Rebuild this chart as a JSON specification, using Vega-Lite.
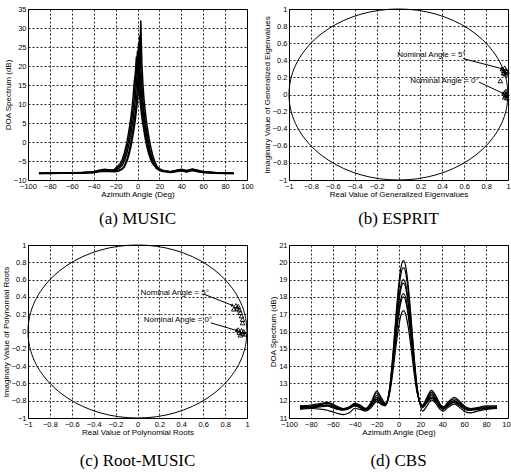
{
"$schema": "https://vega.github.io/schema/vega-lite/v6.json",
"padding": {"left": 1, "top": 4, "right": 0, "bottom": 0},
"config": {
 "font": "Liberation Sans",
 "view": {"stroke": "black", "strokeWidth": 1},
 "axis": {"domain": false, "ticks": false, "grid": true, "gridColor": "black", "gridDash": [2, 2], "gridOpacity": 0.85, "gridWidth": 1, "labelColor": "black", "labelFontSize": 7.5, "labelFont": "Liberation Sans Narrow, Liberation Sans", "labelPadding": 2, "labelFlush": false, "labelOverlap": false, "titleColor": "black", "titleFontSize": 8, "titleFontWeight": "normal", "titleFont": "Liberation Sans", "titlePadding": 1},
 "title": {"font": "Liberation Serif", "fontSize": 17, "fontWeight": "normal", "color": "black"},
 "point": {"opacity": 1}
},
"datasets": {
 "music": [
  {"c":"a1","x":-90,"y":-8.2},{"c":"a1","x":-80,"y":-8.2},{"c":"a1","x":-70,"y":-8.2},{"c":"a1","x":-60,"y":-8.2},{"c":"a1","x":-50,"y":-8.1},{"c":"a1","x":-40,"y":-8.0},{"c":"a1","x":-35,"y":-7.7},{"c":"a1","x":-30,"y":-7.5},
  {"c":"a1","x":-20,"y":-7.7},{"c":"a1","x":-17,"y":-7.5},{"c":"a1","x":-14,"y":-7.0},{"c":"a1","x":-12,"y":-6.5},{"c":"a1","x":-10,"y":-5.3},{"c":"a1","x":-8,"y":-3.6},{"c":"a1","x":-6,"y":-1.2},{"c":"a1","x":-5,"y":0.3},{"c":"a1","x":-4,"y":2},{"c":"a1","x":-3,"y":3.8},{"c":"a1","x":-2,"y":5.8},{"c":"a1","x":-1,"y":8.3},{"c":"a1","x":0,"y":11},{"c":"a1","x":1,"y":15},{"c":"a1","x":2,"y":20.5},{"c":"a1","x":3,"y":32},{"c":"a1","x":4,"y":20.5},{"c":"a1","x":5,"y":15},{"c":"a1","x":6,"y":11},{"c":"a1","x":7,"y":8.3},{"c":"a1","x":8,"y":5.8},{"c":"a1","x":9,"y":3.8},{"c":"a1","x":10,"y":2},{"c":"a1","x":11,"y":0.3},{"c":"a1","x":12,"y":-1.2},{"c":"a1","x":14,"y":-3.6},{"c":"a1","x":16,"y":-5.3},{"c":"a1","x":18,"y":-6.5},{"c":"a1","x":20,"y":-7.0},{"c":"a1","x":23,"y":-7.5},{"c":"a1","x":26,"y":-7.7},
  {"c":"a1","x":30,"y":-7.9},{"c":"a1","x":35,"y":-7.6},{"c":"a1","x":40,"y":-7.4},{"c":"a1","x":45,"y":-7.7},{"c":"a1","x":50,"y":-7.3},{"c":"a1","x":55,"y":-7.6},{"c":"a1","x":60,"y":-7.9},{"c":"a1","x":70,"y":-8.1},{"c":"a1","x":80,"y":-8.2},{"c":"a1","x":88,"y":-8.2},
  {"c":"a2","x":-90,"y":-8.3},{"c":"a2","x":-80,"y":-8.3},{"c":"a2","x":-70,"y":-8.2},{"c":"a2","x":-60,"y":-8.2},{"c":"a2","x":-50,"y":-8.1},{"c":"a2","x":-40,"y":-7.9},{"c":"a2","x":-35,"y":-7.5},{"c":"a2","x":-30,"y":-7.3},
  {"c":"a2","x":-24,"y":-7.4},{"c":"a2","x":-21,"y":-7.2},{"c":"a2","x":-18,"y":-6.3},{"c":"a2","x":-16,"y":-5.8},{"c":"a2","x":-14,"y":-4.6},{"c":"a2","x":-12,"y":-2.9},{"c":"a2","x":-10,"y":-0.5},{"c":"a2","x":-9,"y":1.0},{"c":"a2","x":-8,"y":2.7},{"c":"a2","x":-7,"y":4.5},{"c":"a2","x":-6,"y":6.5},{"c":"a2","x":-5,"y":9.0},{"c":"a2","x":-4,"y":11.7},{"c":"a2","x":-3,"y":15.7},{"c":"a2","x":-2,"y":18},{"c":"a2","x":-1,"y":22.5},{"c":"a2","x":0,"y":18},{"c":"a2","x":1,"y":15.7},{"c":"a2","x":2,"y":11.7},{"c":"a2","x":3,"y":9.0},{"c":"a2","x":4,"y":6.5},{"c":"a2","x":5,"y":4.5},{"c":"a2","x":6,"y":2.7},{"c":"a2","x":7,"y":1.0},{"c":"a2","x":8,"y":-0.5},{"c":"a2","x":10,"y":-2.9},{"c":"a2","x":12,"y":-4.6},{"c":"a2","x":14,"y":-5.8},{"c":"a2","x":16,"y":-6.3},{"c":"a2","x":19,"y":-7.2},{"c":"a2","x":22,"y":-7.4},
  {"c":"a2","x":30,"y":-7.8},{"c":"a2","x":35,"y":-7.5},{"c":"a2","x":40,"y":-7.3},{"c":"a2","x":45,"y":-7.6},{"c":"a2","x":50,"y":-7.2},{"c":"a2","x":55,"y":-7.5},{"c":"a2","x":60,"y":-7.8},{"c":"a2","x":70,"y":-8.0},{"c":"a2","x":80,"y":-8.2},{"c":"a2","x":88,"y":-8.3},
  {"c":"a3","x":-90,"y":-8.2},{"c":"a3","x":-80,"y":-8.1},{"c":"a3","x":-70,"y":-8.1},{"c":"a3","x":-60,"y":-8.1},{"c":"a3","x":-50,"y":-8.0},{"c":"a3","x":-40,"y":-7.9},{"c":"a3","x":-35,"y":-7.6},{"c":"a3","x":-30,"y":-7.4},
  {"c":"a3","x":-22,"y":-7.6},{"c":"a3","x":-19,"y":-7.4},{"c":"a3","x":-16,"y":-6.7},{"c":"a3","x":-14,"y":-6.2},{"c":"a3","x":-12,"y":-5.0},{"c":"a3","x":-10,"y":-3.3},{"c":"a3","x":-8,"y":-0.9},{"c":"a3","x":-7,"y":0.6},{"c":"a3","x":-6,"y":2.3},{"c":"a3","x":-5,"y":4.1},{"c":"a3","x":-4,"y":6.1},{"c":"a3","x":-3,"y":8.6},{"c":"a3","x":-2,"y":11.3},{"c":"a3","x":-1,"y":15.3},{"c":"a3","x":0,"y":19.5},{"c":"a3","x":1,"y":26},{"c":"a3","x":2,"y":19.5},{"c":"a3","x":3,"y":15.3},{"c":"a3","x":4,"y":11.3},{"c":"a3","x":5,"y":8.6},{"c":"a3","x":6,"y":6.1},{"c":"a3","x":7,"y":4.1},{"c":"a3","x":8,"y":2.3},{"c":"a3","x":9,"y":0.6},{"c":"a3","x":10,"y":-0.9},{"c":"a3","x":12,"y":-3.3},{"c":"a3","x":14,"y":-5.0},{"c":"a3","x":16,"y":-6.2},{"c":"a3","x":18,"y":-6.7},{"c":"a3","x":21,"y":-7.4},{"c":"a3","x":24,"y":-7.6},
  {"c":"a3","x":30,"y":-7.9},{"c":"a3","x":35,"y":-7.7},{"c":"a3","x":40,"y":-7.5},{"c":"a3","x":45,"y":-7.8},{"c":"a3","x":50,"y":-7.4},{"c":"a3","x":55,"y":-7.7},{"c":"a3","x":60,"y":-8.0},{"c":"a3","x":70,"y":-8.1},{"c":"a3","x":80,"y":-8.2},{"c":"a3","x":88,"y":-8.2},
  {"c":"a4","x":-90,"y":-8.3},{"c":"a4","x":-80,"y":-8.2},{"c":"a4","x":-70,"y":-8.2},{"c":"a4","x":-60,"y":-8.2},{"c":"a4","x":-50,"y":-8.2},{"c":"a4","x":-40,"y":-8.1},{"c":"a4","x":-35,"y":-7.8},{"c":"a4","x":-30,"y":-7.7},
  {"c":"a4","x":-21,"y":-7.8},{"c":"a4","x":-18,"y":-7.7},{"c":"a4","x":-15,"y":-7.3},{"c":"a4","x":-13,"y":-6.9},{"c":"a4","x":-11,"y":-5.7},{"c":"a4","x":-9,"y":-4.0},{"c":"a4","x":-7,"y":-1.6},{"c":"a4","x":-6,"y":-0.1},{"c":"a4","x":-5,"y":1.6},{"c":"a4","x":-4,"y":3.4},{"c":"a4","x":-3,"y":5.4},{"c":"a4","x":-2,"y":7.9},{"c":"a4","x":-1,"y":10.6},{"c":"a4","x":0,"y":14.6},{"c":"a4","x":1,"y":20},{"c":"a4","x":2,"y":28},{"c":"a4","x":3,"y":20},{"c":"a4","x":4,"y":14.6},{"c":"a4","x":5,"y":10.6},{"c":"a4","x":6,"y":7.9},{"c":"a4","x":7,"y":5.4},{"c":"a4","x":8,"y":3.4},{"c":"a4","x":9,"y":1.6},{"c":"a4","x":10,"y":-0.1},{"c":"a4","x":11,"y":-1.6},{"c":"a4","x":13,"y":-4.0},{"c":"a4","x":15,"y":-5.7},{"c":"a4","x":17,"y":-6.9},{"c":"a4","x":19,"y":-7.3},{"c":"a4","x":22,"y":-7.7},{"c":"a4","x":25,"y":-7.8},
  {"c":"a4","x":30,"y":-8.0},{"c":"a4","x":35,"y":-7.8},{"c":"a4","x":40,"y":-7.6},{"c":"a4","x":45,"y":-7.9},{"c":"a4","x":50,"y":-7.5},{"c":"a4","x":55,"y":-7.8},{"c":"a4","x":60,"y":-8.0},{"c":"a4","x":70,"y":-8.2},{"c":"a4","x":80,"y":-8.3},{"c":"a4","x":88,"y":-8.3},
  {"c":"a5","x":-90,"y":-8.2},{"c":"a5","x":-80,"y":-8.2},{"c":"a5","x":-70,"y":-8.1},{"c":"a5","x":-60,"y":-8.1},{"c":"a5","x":-50,"y":-8.0},{"c":"a5","x":-40,"y":-7.8},{"c":"a5","x":-35,"y":-7.4},{"c":"a5","x":-30,"y":-7.2},
  {"c":"a5","x":-23,"y":-7.5},{"c":"a5","x":-20,"y":-7.3},{"c":"a5","x":-17,"y":-6.5},{"c":"a5","x":-15,"y":-6.0},{"c":"a5","x":-13,"y":-4.8},{"c":"a5","x":-11,"y":-3.1},{"c":"a5","x":-9,"y":-0.7},{"c":"a5","x":-8,"y":0.8},{"c":"a5","x":-7,"y":2.5},{"c":"a5","x":-6,"y":4.3},{"c":"a5","x":-5,"y":6.3},{"c":"a5","x":-4,"y":8.8},{"c":"a5","x":-3,"y":11.5},{"c":"a5","x":-2,"y":15.5},{"c":"a5","x":-1,"y":19},{"c":"a5","x":0,"y":24},{"c":"a5","x":1,"y":19},{"c":"a5","x":2,"y":15.5},{"c":"a5","x":3,"y":11.5},{"c":"a5","x":4,"y":8.8},{"c":"a5","x":5,"y":6.3},{"c":"a5","x":6,"y":4.3},{"c":"a5","x":7,"y":2.5},{"c":"a5","x":8,"y":0.8},{"c":"a5","x":9,"y":-0.7},{"c":"a5","x":11,"y":-3.1},{"c":"a5","x":13,"y":-4.8},{"c":"a5","x":15,"y":-6.0},{"c":"a5","x":17,"y":-6.5},{"c":"a5","x":20,"y":-7.3},{"c":"a5","x":23,"y":-7.5},
  {"c":"a5","x":30,"y":-7.8},{"c":"a5","x":35,"y":-7.5},{"c":"a5","x":40,"y":-7.2},{"c":"a5","x":45,"y":-7.5},{"c":"a5","x":50,"y":-7.1},{"c":"a5","x":55,"y":-7.4},{"c":"a5","x":60,"y":-7.8},{"c":"a5","x":70,"y":-8.0},{"c":"a5","x":80,"y":-8.1},{"c":"a5","x":88,"y":-8.2}
 ],
 "cbs": [
  {"c":"d1","x":-90,"y":11.7},{"c":"d1","x":-80,"y":11.75},{"c":"d1","x":-70,"y":11.85},{"c":"d1","x":-65,"y":11.9},{"c":"d1","x":-60,"y":11.8},{"c":"d1","x":-55,"y":11.65},{"c":"d1","x":-50,"y":11.55},{"c":"d1","x":-45,"y":11.65},{"c":"d1","x":-40,"y":11.85},{"c":"d1","x":-35,"y":11.75},{"c":"d1","x":-30,"y":11.55},{"c":"d1","x":-25,"y":11.9},{"c":"d1","x":-20,"y":12.55},{"c":"d1","x":-15,"y":12.1},{"c":"d1","x":-12,"y":11.85},
  {"c":"d1","x":-10,"y":12.03},{"c":"d1","x":-8,"y":12.79},{"c":"d1","x":-6,"y":14.03},{"c":"d1","x":-4,"y":15.56},{"c":"d1","x":-2,"y":17.17},{"c":"d1","x":0,"y":18.59},{"c":"d1","x":2,"y":19.61},{"c":"d1","x":4,"y":20.08},{"c":"d1","x":5,"y":20.08},{"c":"d1","x":7,"y":19.61},{"c":"d1","x":9,"y":18.59},{"c":"d1","x":11,"y":17.17},{"c":"d1","x":13,"y":15.56},{"c":"d1","x":15,"y":14.03},{"c":"d1","x":17,"y":12.79},{"c":"d1","x":19,"y":12.03},
  {"c":"d1","x":22,"y":11.75},{"c":"d1","x":26,"y":12.2},{"c":"d1","x":30,"y":12.6},{"c":"d1","x":34,"y":12.3},{"c":"d1","x":38,"y":11.8},{"c":"d1","x":41,"y":11.65},{"c":"d1","x":45,"y":11.9},{"c":"d1","x":51,"y":12.2},{"c":"d1","x":56,"y":11.95},{"c":"d1","x":61,"y":11.65},{"c":"d1","x":66,"y":11.55},{"c":"d1","x":72,"y":11.6},{"c":"d1","x":80,"y":11.7},{"c":"d1","x":90,"y":11.7},
  {"c":"d2","x":-90,"y":11.65},{"c":"d2","x":-80,"y":11.7},{"c":"d2","x":-70,"y":11.8},{"c":"d2","x":-65,"y":11.85},{"c":"d2","x":-60,"y":11.75},{"c":"d2","x":-55,"y":11.6},{"c":"d2","x":-50,"y":11.5},{"c":"d2","x":-45,"y":11.6},{"c":"d2","x":-40,"y":11.8},{"c":"d2","x":-35,"y":11.7},{"c":"d2","x":-30,"y":11.5},{"c":"d2","x":-25,"y":11.85},{"c":"d2","x":-20,"y":12.45},{"c":"d2","x":-15,"y":12.0},{"c":"d2","x":-12,"y":11.8},
  {"c":"d2","x":-10,"y":12.02},{"c":"d2","x":-8,"y":12.74},{"c":"d2","x":-6,"y":13.92},{"c":"d2","x":-4,"y":15.38},{"c":"d2","x":-2,"y":16.91},{"c":"d2","x":0,"y":18.26},{"c":"d2","x":2,"y":19.24},{"c":"d2","x":4,"y":19.68},{"c":"d2","x":5,"y":19.68},{"c":"d2","x":7,"y":19.24},{"c":"d2","x":9,"y":18.26},{"c":"d2","x":11,"y":16.91},{"c":"d2","x":13,"y":15.38},{"c":"d2","x":15,"y":13.92},{"c":"d2","x":17,"y":12.74},{"c":"d2","x":19,"y":12.02},
  {"c":"d2","x":22,"y":11.7},{"c":"d2","x":26,"y":12.1},{"c":"d2","x":30,"y":12.5},{"c":"d2","x":34,"y":12.2},{"c":"d2","x":38,"y":11.75},{"c":"d2","x":41,"y":11.6},{"c":"d2","x":45,"y":11.85},{"c":"d2","x":51,"y":12.1},{"c":"d2","x":56,"y":11.9},{"c":"d2","x":61,"y":11.6},{"c":"d2","x":66,"y":11.5},{"c":"d2","x":72,"y":11.55},{"c":"d2","x":80,"y":11.65},{"c":"d2","x":90,"y":11.65},
  {"c":"d3","x":-90,"y":11.6},{"c":"d3","x":-80,"y":11.65},{"c":"d3","x":-70,"y":11.75},{"c":"d3","x":-65,"y":11.75},{"c":"d3","x":-60,"y":11.7},{"c":"d3","x":-55,"y":11.55},{"c":"d3","x":-50,"y":11.5},{"c":"d3","x":-45,"y":11.55},{"c":"d3","x":-40,"y":11.75},{"c":"d3","x":-35,"y":11.65},{"c":"d3","x":-30,"y":11.5},{"c":"d3","x":-25,"y":11.8},{"c":"d3","x":-20,"y":12.3},{"c":"d3","x":-15,"y":11.95},{"c":"d3","x":-12,"y":11.8},
  {"c":"d3","x":-10,"y":12.0},{"c":"d3","x":-8,"y":12.66},{"c":"d3","x":-6,"y":13.74},{"c":"d3","x":-4,"y":15.07},{"c":"d3","x":-2,"y":16.46},{"c":"d3","x":0,"y":17.69},{"c":"d3","x":2,"y":18.58},{"c":"d3","x":4,"y":18.98},{"c":"d3","x":5,"y":18.98},{"c":"d3","x":7,"y":18.58},{"c":"d3","x":9,"y":17.69},{"c":"d3","x":11,"y":16.46},{"c":"d3","x":13,"y":15.07},{"c":"d3","x":15,"y":13.74},{"c":"d3","x":17,"y":12.66},{"c":"d3","x":19,"y":12.0},
  {"c":"d3","x":22,"y":11.65},{"c":"d3","x":26,"y":12.0},{"c":"d3","x":30,"y":12.4},{"c":"d3","x":34,"y":12.1},{"c":"d3","x":38,"y":11.7},{"c":"d3","x":41,"y":11.55},{"c":"d3","x":45,"y":11.8},{"c":"d3","x":51,"y":12.0},{"c":"d3","x":56,"y":11.85},{"c":"d3","x":61,"y":11.6},{"c":"d3","x":66,"y":11.5},{"c":"d3","x":72,"y":11.5},{"c":"d3","x":80,"y":11.6},{"c":"d3","x":90,"y":11.6},
  {"c":"d4","x":-90,"y":11.7},{"c":"d4","x":-80,"y":11.65},{"c":"d4","x":-70,"y":11.7},{"c":"d4","x":-65,"y":11.75},{"c":"d4","x":-60,"y":11.65},{"c":"d4","x":-55,"y":11.55},{"c":"d4","x":-50,"y":11.55},{"c":"d4","x":-45,"y":11.6},{"c":"d4","x":-40,"y":11.8},{"c":"d4","x":-35,"y":11.7},{"c":"d4","x":-30,"y":11.55},{"c":"d4","x":-25,"y":11.75},{"c":"d4","x":-20,"y":12.2},{"c":"d4","x":-15,"y":11.9},{"c":"d4","x":-12,"y":11.8},
  {"c":"d4","x":-10,"y":12.0},{"c":"d4","x":-8,"y":12.64},{"c":"d4","x":-6,"y":13.68},{"c":"d4","x":-4,"y":14.98},{"c":"d4","x":-2,"y":16.33},{"c":"d4","x":0,"y":17.53},{"c":"d4","x":2,"y":18.39},{"c":"d4","x":4,"y":18.78},{"c":"d4","x":5,"y":18.78},{"c":"d4","x":7,"y":18.39},{"c":"d4","x":9,"y":17.53},{"c":"d4","x":11,"y":16.33},{"c":"d4","x":13,"y":14.98},{"c":"d4","x":15,"y":13.68},{"c":"d4","x":17,"y":12.64},{"c":"d4","x":19,"y":12.0},
  {"c":"d4","x":22,"y":11.7},{"c":"d4","x":26,"y":11.95},{"c":"d4","x":30,"y":12.3},{"c":"d4","x":34,"y":12.05},{"c":"d4","x":38,"y":11.7},{"c":"d4","x":41,"y":11.6},{"c":"d4","x":45,"y":11.75},{"c":"d4","x":51,"y":11.95},{"c":"d4","x":56,"y":11.8},{"c":"d4","x":61,"y":11.6},{"c":"d4","x":66,"y":11.55},{"c":"d4","x":72,"y":11.55},{"c":"d4","x":80,"y":11.6},{"c":"d4","x":90,"y":11.65},
  {"c":"d5","x":-90,"y":11.55},{"c":"d5","x":-80,"y":11.6},{"c":"d5","x":-70,"y":11.7},{"c":"d5","x":-65,"y":11.7},{"c":"d5","x":-60,"y":11.6},{"c":"d5","x":-55,"y":11.5},{"c":"d5","x":-50,"y":11.45},{"c":"d5","x":-45,"y":11.55},{"c":"d5","x":-40,"y":11.75},{"c":"d5","x":-35,"y":11.6},{"c":"d5","x":-30,"y":11.45},{"c":"d5","x":-25,"y":11.7},{"c":"d5","x":-20,"y":12.1},{"c":"d5","x":-15,"y":11.85},{"c":"d5","x":-12,"y":11.75},
  {"c":"d5","x":-10,"y":11.99},{"c":"d5","x":-8,"y":12.57},{"c":"d5","x":-6,"y":13.53},{"c":"d5","x":-4,"y":14.71},{"c":"d5","x":-2,"y":15.95},{"c":"d5","x":0,"y":17.04},{"c":"d5","x":2,"y":17.83},{"c":"d5","x":4,"y":18.18},{"c":"d5","x":5,"y":18.18},{"c":"d5","x":7,"y":17.83},{"c":"d5","x":9,"y":17.04},{"c":"d5","x":11,"y":15.95},{"c":"d5","x":13,"y":14.71},{"c":"d5","x":15,"y":13.53},{"c":"d5","x":17,"y":12.57},{"c":"d5","x":19,"y":11.99},
  {"c":"d5","x":22,"y":11.6},{"c":"d5","x":26,"y":11.9},{"c":"d5","x":30,"y":12.2},{"c":"d5","x":34,"y":12.0},{"c":"d5","x":38,"y":11.6},{"c":"d5","x":41,"y":11.5},{"c":"d5","x":45,"y":11.7},{"c":"d5","x":51,"y":11.9},{"c":"d5","x":56,"y":11.75},{"c":"d5","x":61,"y":11.5},{"c":"d5","x":66,"y":11.45},{"c":"d5","x":72,"y":11.5},{"c":"d5","x":80,"y":11.55},{"c":"d5","x":90,"y":11.6},
  {"c":"d6","x":-90,"y":11.6},{"c":"d6","x":-80,"y":11.6},{"c":"d6","x":-70,"y":11.65},{"c":"d6","x":-65,"y":11.7},{"c":"d6","x":-60,"y":11.6},{"c":"d6","x":-55,"y":11.5},{"c":"d6","x":-50,"y":11.5},{"c":"d6","x":-45,"y":11.55},{"c":"d6","x":-40,"y":11.7},{"c":"d6","x":-35,"y":11.6},{"c":"d6","x":-30,"y":11.5},{"c":"d6","x":-25,"y":11.7},{"c":"d6","x":-20,"y":12.05},{"c":"d6","x":-15,"y":11.8},{"c":"d6","x":-12,"y":11.75},
  {"c":"d6","x":-10,"y":11.98},{"c":"d6","x":-8,"y":12.55},{"c":"d6","x":-6,"y":13.47},{"c":"d6","x":-4,"y":14.62},{"c":"d6","x":-2,"y":15.82},{"c":"d6","x":0,"y":16.87},{"c":"d6","x":2,"y":17.64},{"c":"d6","x":4,"y":17.99},{"c":"d6","x":5,"y":17.99},{"c":"d6","x":7,"y":17.64},{"c":"d6","x":9,"y":16.87},{"c":"d6","x":11,"y":15.82},{"c":"d6","x":13,"y":14.62},{"c":"d6","x":15,"y":13.47},{"c":"d6","x":17,"y":12.55},{"c":"d6","x":19,"y":11.98},
  {"c":"d6","x":22,"y":11.65},{"c":"d6","x":26,"y":11.9},{"c":"d6","x":30,"y":12.15},{"c":"d6","x":34,"y":11.95},{"c":"d6","x":38,"y":11.65},{"c":"d6","x":41,"y":11.55},{"c":"d6","x":45,"y":11.7},{"c":"d6","x":51,"y":11.9},{"c":"d6","x":56,"y":11.7},{"c":"d6","x":61,"y":11.5},{"c":"d6","x":66,"y":11.45},{"c":"d6","x":72,"y":11.5},{"c":"d6","x":80,"y":11.55},{"c":"d6","x":90,"y":11.6},
  {"c":"d7","x":-90,"y":11.5},{"c":"d7","x":-80,"y":11.55},{"c":"d7","x":-70,"y":11.5},{"c":"d7","x":-65,"y":11.45},{"c":"d7","x":-60,"y":11.35},{"c":"d7","x":-55,"y":11.25},{"c":"d7","x":-50,"y":11.2},{"c":"d7","x":-45,"y":11.3},{"c":"d7","x":-40,"y":11.55},{"c":"d7","x":-35,"y":11.5},{"c":"d7","x":-30,"y":11.4},{"c":"d7","x":-25,"y":11.6},{"c":"d7","x":-20,"y":11.95},{"c":"d7","x":-15,"y":11.75},{"c":"d7","x":-12,"y":11.7},
  {"c":"d7","x":-10,"y":11.97},{"c":"d7","x":-8,"y":12.46},{"c":"d7","x":-6,"y":13.26},{"c":"d7","x":-4,"y":14.26},{"c":"d7","x":-2,"y":15.3},{"c":"d7","x":0,"y":16.22},{"c":"d7","x":2,"y":16.88},{"c":"d7","x":4,"y":17.19},{"c":"d7","x":5,"y":17.19},{"c":"d7","x":7,"y":16.88},{"c":"d7","x":9,"y":16.22},{"c":"d7","x":11,"y":15.3},{"c":"d7","x":13,"y":14.26},{"c":"d7","x":15,"y":13.26},{"c":"d7","x":17,"y":12.46},{"c":"d7","x":19,"y":11.97},
  {"c":"d7","x":22,"y":11.4},{"c":"d7","x":26,"y":11.7},{"c":"d7","x":30,"y":12.05},{"c":"d7","x":34,"y":11.85},{"c":"d7","x":38,"y":11.5},{"c":"d7","x":41,"y":11.4},{"c":"d7","x":45,"y":11.6},{"c":"d7","x":51,"y":11.8},{"c":"d7","x":56,"y":11.6},{"c":"d7","x":61,"y":11.35},{"c":"d7","x":66,"y":11.3},{"c":"d7","x":72,"y":11.4},{"c":"d7","x":80,"y":11.5},{"c":"d7","x":90,"y":11.55}
 ],
 "unitcircle": [
  {"i":0,"x":1,"y":0},{"i":1,"x":0.985,"y":0.174},{"i":2,"x":0.94,"y":0.342},{"i":3,"x":0.866,"y":0.5},{"i":4,"x":0.766,"y":0.643},{"i":5,"x":0.643,"y":0.766},{"i":6,"x":0.5,"y":0.866},{"i":7,"x":0.342,"y":0.94},{"i":8,"x":0.174,"y":0.985},{"i":9,"x":0,"y":1},
  {"i":10,"x":-0.174,"y":0.985},{"i":11,"x":-0.342,"y":0.94},{"i":12,"x":-0.5,"y":0.866},{"i":13,"x":-0.643,"y":0.766},{"i":14,"x":-0.766,"y":0.643},{"i":15,"x":-0.866,"y":0.5},{"i":16,"x":-0.94,"y":0.342},{"i":17,"x":-0.985,"y":0.174},{"i":18,"x":-1,"y":0},
  {"i":19,"x":-0.985,"y":-0.174},{"i":20,"x":-0.94,"y":-0.342},{"i":21,"x":-0.866,"y":-0.5},{"i":22,"x":-0.766,"y":-0.643},{"i":23,"x":-0.643,"y":-0.766},{"i":24,"x":-0.5,"y":-0.866},{"i":25,"x":-0.342,"y":-0.94},{"i":26,"x":-0.174,"y":-0.985},{"i":27,"x":0,"y":-1},
  {"i":28,"x":0.174,"y":-0.985},{"i":29,"x":0.342,"y":-0.94},{"i":30,"x":0.5,"y":-0.866},{"i":31,"x":0.643,"y":-0.766},{"i":32,"x":0.766,"y":-0.643},{"i":33,"x":0.866,"y":-0.5},{"i":34,"x":0.94,"y":-0.342},{"i":35,"x":0.985,"y":-0.174},{"i":36,"x":1,"y":0}
 ],
 "esprit_pts": [
  {"x":0.95,"y":0.30},{"x":0.96,"y":0.28},{"x":0.97,"y":0.31},{"x":0.97,"y":0.26},{"x":0.98,"y":0.28},{"x":0.96,"y":0.25},{"x":0.98,"y":0.24},{"x":0.99,"y":0.27},
  {"x":0.93,"y":0.16},
  {"x":0.98,"y":0.04},{"x":0.97,"y":0.02},{"x":0.99,"y":0.01},{"x":0.98,"y":-0.01},{"x":0.97,"y":-0.03},{"x":0.99,"y":-0.04},{"x":0.98,"y":0.0}
 ],
 "rootmusic_pts": [
  {"x":0.88,"y":0.26},{"x":0.90,"y":0.30},{"x":0.91,"y":0.27},{"x":0.92,"y":0.29},{"x":0.93,"y":0.25},{"x":0.94,"y":0.22},{"x":0.95,"y":0.18},{"x":0.96,"y":0.14},{"x":0.96,"y":0.10},
  {"x":0.92,"y":0.02},{"x":0.93,"y":-0.01},{"x":0.95,"y":0.01},{"x":0.94,"y":-0.04},{"x":0.96,"y":-0.02},{"x":0.97,"y":0.0},{"x":0.98,"y":-0.03}
 ],
 "annb": [
  {"k":5,"label":"Nominal Angle = 5°","tx":0.30,"ty":0.46,"ax":0.59,"ay":0.42,"bx":0.95,"by":0.30},
  {"k":0,"label":"Nominal Angle = 0°","tx":0.42,"ty":0.155,"ax":0.735,"ay":0.145,"bx":0.96,"by":0.01}
 ],
 "annc": [
  {"k":5,"label":"Nominal Angle = 5°","tx":0.34,"ty":0.45,"ax":0.61,"ay":0.43,"bx":0.87,"by":0.30},
  {"k":0,"label":"Nominal Angle = 0°","tx":0.37,"ty":0.13,"ax":0.67,"ay":0.10,"bx":0.91,"by":0.01}
 ]
},
"columns": 2,
"spacing": {"row": 65, "column": 42},
"bounds": "flush",
"concat": [
   {
    "width": 219, "height": 171,
    "title": {"text": "(a)   MUSIC", "orient": "bottom", "offset": 12},
    "data": {"name": "music"},
    "mark": {"type": "line", "color": "black", "strokeWidth": 1.5},
    "encoding": {
     "x": {"field": "x", "type": "quantitative", "scale": {"domain": [-100, 100], "nice": false}, "axis": {"values": [-100,-80,-60,-40,-20,0,20,40,60,80,100], "tickCount": 40, "format": "d", "title": "Azimuth Angle (Deg)"}},
     "y": {"field": "y", "type": "quantitative", "scale": {"domain": [-10, 35], "nice": false, "zero": false}, "axis": {"values": [-10,-5,0,5,10,15,20,25,30,35], "tickCount": 40, "format": "d", "title": "DOA Spectrum (dB)"}},
     "detail": {"field": "c", "type": "nominal"}
    }
   },
   {
    "width": 219, "height": 171,
    "title": {"text": "(b)  ESPRIT", "orient": "bottom", "offset": 12},
    "layer": [
     {"data": {"name": "unitcircle"}, "mark": {"type": "line", "color": "black", "strokeWidth": 1, "interpolate": "cardinal"},
      "encoding": {
       "x": {"field": "x", "type": "quantitative", "scale": {"domain": [-1, 1], "nice": false}, "axis": {"values": [-1,-0.8,-0.6,-0.4,-0.2,0,0.2,0.4,0.6,0.8,1], "tickCount": 40, "format": "~g", "title": "Real Value of Generalized Eigenvalues"}},
       "y": {"field": "y", "type": "quantitative", "scale": {"domain": [-1, 1], "nice": false}, "axis": {"values": [-1,-0.8,-0.6,-0.4,-0.2,0,0.2,0.4,0.6,0.8,1], "tickCount": 40, "format": "~g", "title": "Imaginary Value of Generalized Eigenvalues"}},
       "order": {"field": "i", "type": "quantitative"}
      }},
     {"data": {"name": "esprit_pts"}, "mark": {"type": "point", "shape": "triangle-up", "filled": false, "color": "black", "size": 22, "strokeWidth": 0.9},
      "encoding": {"x": {"field": "x", "type": "quantitative"}, "y": {"field": "y", "type": "quantitative"}}},
     {"data": {"name": "annb"}, "mark": {"type": "rule", "color": "black", "strokeWidth": 1},
      "encoding": {"x": {"field": "ax", "type": "quantitative"}, "y": {"field": "ay", "type": "quantitative"}, "x2": {"field": "bx"}, "y2": {"field": "by"}}},
     {"data": {"name": "annb"}, "transform": [{"filter": "datum.k == 5"}], "mark": {"type": "point", "shape": "triangle-right", "filled": true, "color": "black", "size": 14, "angle": 15},
      "encoding": {"x": {"field": "bx", "type": "quantitative"}, "y": {"field": "by", "type": "quantitative"}}},
     {"data": {"name": "annb"}, "transform": [{"filter": "datum.k == 0"}], "mark": {"type": "point", "shape": "triangle-right", "filled": true, "color": "black", "size": 14, "angle": 25},
      "encoding": {"x": {"field": "bx", "type": "quantitative"}, "y": {"field": "by", "type": "quantitative"}}},
     {"data": {"name": "annb"}, "mark": {"type": "text", "fontSize": 8, "color": "black", "font": "Liberation Sans"},
      "encoding": {"x": {"field": "tx", "type": "quantitative"}, "y": {"field": "ty", "type": "quantitative"}, "text": {"field": "label"}}}
    ]
   },
   {
    "width": 219, "height": 173,
    "title": {"text": "(c)  Root-MUSIC", "orient": "bottom", "offset": 16},
    "layer": [
     {"data": {"name": "unitcircle"}, "mark": {"type": "line", "color": "black", "strokeWidth": 1, "interpolate": "cardinal"},
      "encoding": {
       "x": {"field": "x", "type": "quantitative", "scale": {"domain": [-1, 1], "nice": false}, "axis": {"values": [-1,-0.8,-0.6,-0.4,-0.2,0,0.2,0.4,0.6,0.8,1], "tickCount": 40, "format": "~g", "title": "Real Value of Polynomial Roots"}},
       "y": {"field": "y", "type": "quantitative", "scale": {"domain": [-1, 1], "nice": false}, "axis": {"values": [-1,-0.8,-0.6,-0.4,-0.2,0,0.2,0.4,0.6,0.8,1], "tickCount": 40, "format": "~g", "title": "Imaginary Value of Polynomial Roots"}},
       "order": {"field": "i", "type": "quantitative"}
      }},
     {"data": {"name": "rootmusic_pts"}, "mark": {"type": "point", "shape": "triangle-up", "filled": false, "color": "black", "size": 22, "strokeWidth": 0.9},
      "encoding": {"x": {"field": "x", "type": "quantitative"}, "y": {"field": "y", "type": "quantitative"}}},
     {"data": {"name": "annc"}, "mark": {"type": "rule", "color": "black", "strokeWidth": 1},
      "encoding": {"x": {"field": "ax", "type": "quantitative"}, "y": {"field": "ay", "type": "quantitative"}, "x2": {"field": "bx"}, "y2": {"field": "by"}}},
     {"data": {"name": "annc"}, "transform": [{"filter": "datum.k == 5"}], "mark": {"type": "point", "shape": "triangle-right", "filled": true, "color": "black", "size": 14, "angle": 22},
      "encoding": {"x": {"field": "bx", "type": "quantitative"}, "y": {"field": "by", "type": "quantitative"}}},
     {"data": {"name": "annc"}, "transform": [{"filter": "datum.k == 0"}], "mark": {"type": "point", "shape": "triangle-right", "filled": true, "color": "black", "size": 14, "angle": 17},
      "encoding": {"x": {"field": "bx", "type": "quantitative"}, "y": {"field": "by", "type": "quantitative"}}},
     {"data": {"name": "annc"}, "mark": {"type": "text", "fontSize": 8, "color": "black", "font": "Liberation Sans"},
      "encoding": {"x": {"field": "tx", "type": "quantitative"}, "y": {"field": "ty", "type": "quantitative"}, "text": {"field": "label"}}}
    ]
   },
   {
    "width": 219, "height": 173,
    "title": {"text": "(d)  CBS", "orient": "bottom", "offset": 16},
    "data": {"name": "cbs"},
    "mark": {"type": "line", "color": "black", "strokeWidth": 1.2, "interpolate": "monotone"},
    "encoding": {
     "x": {"field": "x", "type": "quantitative", "scale": {"domain": [-100, 100], "nice": false}, "axis": {"values": [-100,-80,-60,-40,-20,0,20,40,60,80,100], "tickCount": 40, "format": "d", "title": "Azimuth Angle (Deg)"}},
     "y": {"field": "y", "type": "quantitative", "scale": {"domain": [11, 21], "nice": false, "zero": false}, "axis": {"values": [11,12,13,14,15,16,17,18,19,20,21], "tickCount": 40, "format": "d", "title": "DOA Spectrum (dB)"}},
     "detail": {"field": "c", "type": "nominal"}
    }
   }
]
}
